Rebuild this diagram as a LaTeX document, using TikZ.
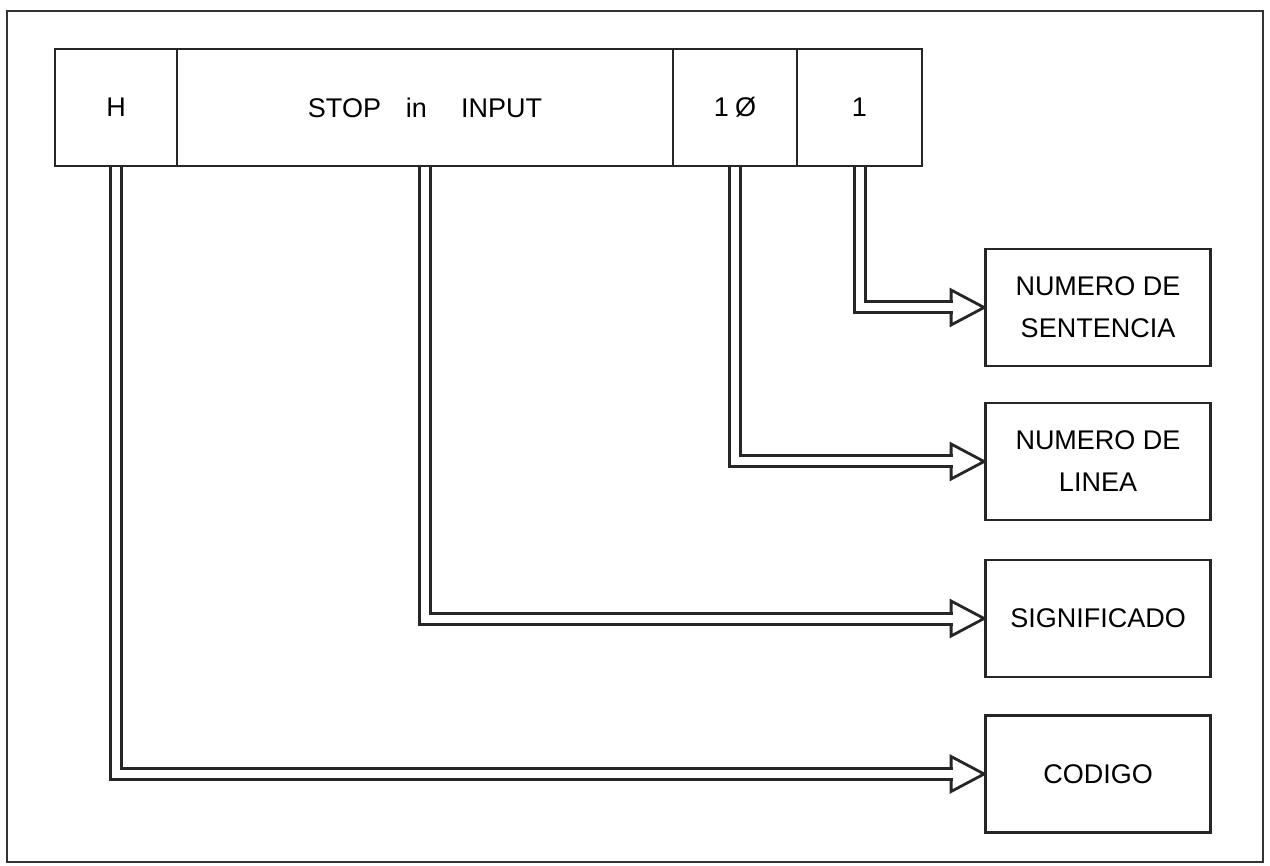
\documentclass[tikz,border=0pt]{standalone}
\usepackage{fontspec}
\setmainfont{Liberation Sans}
\usetikzlibrary{calc}
\tikzset{
  cell/.style={draw=black!85, line width=2.8pt, fill=white, minimum height=117pt, inner sep=0pt, font=\fontsize{27}{32}\selectfont},
  target/.style={draw=black!85, line width=2.8pt, fill=white, minimum width=225pt, minimum height=117pt, inner sep=0pt, align=center, font=\fontsize{27}{42}\selectfont},
  shaft/.style={draw=black!85, line width=3pt, double=white, double distance=8pt},
  head/.style={draw=black!85, line width=2.8pt, fill=white}
}

\begin{document}
\begin{tikzpicture}[x=1pt, y=-1pt]
      \useasboundingbox (0,0) rectangle (1270,866);

      % Frame
      \draw[black!80, line width=2.6pt] (7,11) rectangle (1263,862);

      % Program line
      \node[cell, minimum width=122pt] (hcell) at (116,107.5) {H};
      \node[cell, minimum width=496pt] (stopcell) at (425,107.5) {STOP\hspace{25pt}in\hspace{34pt}INPUT};
      \node[cell, minimum width=124pt] (linecell) at (735,107.5) {1\hspace{6pt}Ø};
      \node[cell, minimum width=125pt] (sentcell) at (859.5,107.5) {1};

      % Meaning boxes
      \node[target] (boxsent) at (1098,307.5) {NUMERO DE\\SENTENCIA};
      \node[target] (boxline) at (1098,461.5) {NUMERO DE\\LINEA};
      \node[target] (boxsig)  at (1098,618.5) {SIGNIFICADO};
      \node[target] (boxcod)  at (1098,774)   {CODIGO};

      % Hollow arrows
      \draw[head] ($(boxsent.west)+(-33,-17.5)$) -- (boxsent.west) -- ($(boxsent.west)+(-33,17.5)$) -- cycle;
      \draw[shaft] (sentcell.south) |- ($(boxsent.west)+(-31.3,0)$);

      \draw[head] ($(boxline.west)+(-33,-17.5)$) -- (boxline.west) -- ($(boxline.west)+(-33,17.5)$) -- cycle;
      \draw[shaft] (linecell.south) |- ($(boxline.west)+(-31.3,0)$);

      \draw[head] ($(boxsig.west)+(-33,-17.5)$) -- (boxsig.west) -- ($(boxsig.west)+(-33,17.5)$) -- cycle;
      \draw[shaft] (stopcell.south) |- ($(boxsig.west)+(-31.3,0)$);

      \draw[head] ($(boxcod.west)+(-33,-17.5)$) -- (boxcod.west) -- ($(boxcod.west)+(-33,17.5)$) -- cycle;
      \draw[shaft] (hcell.south) |- ($(boxcod.west)+(-31.3,0)$);
\end{tikzpicture}
\end{document}
